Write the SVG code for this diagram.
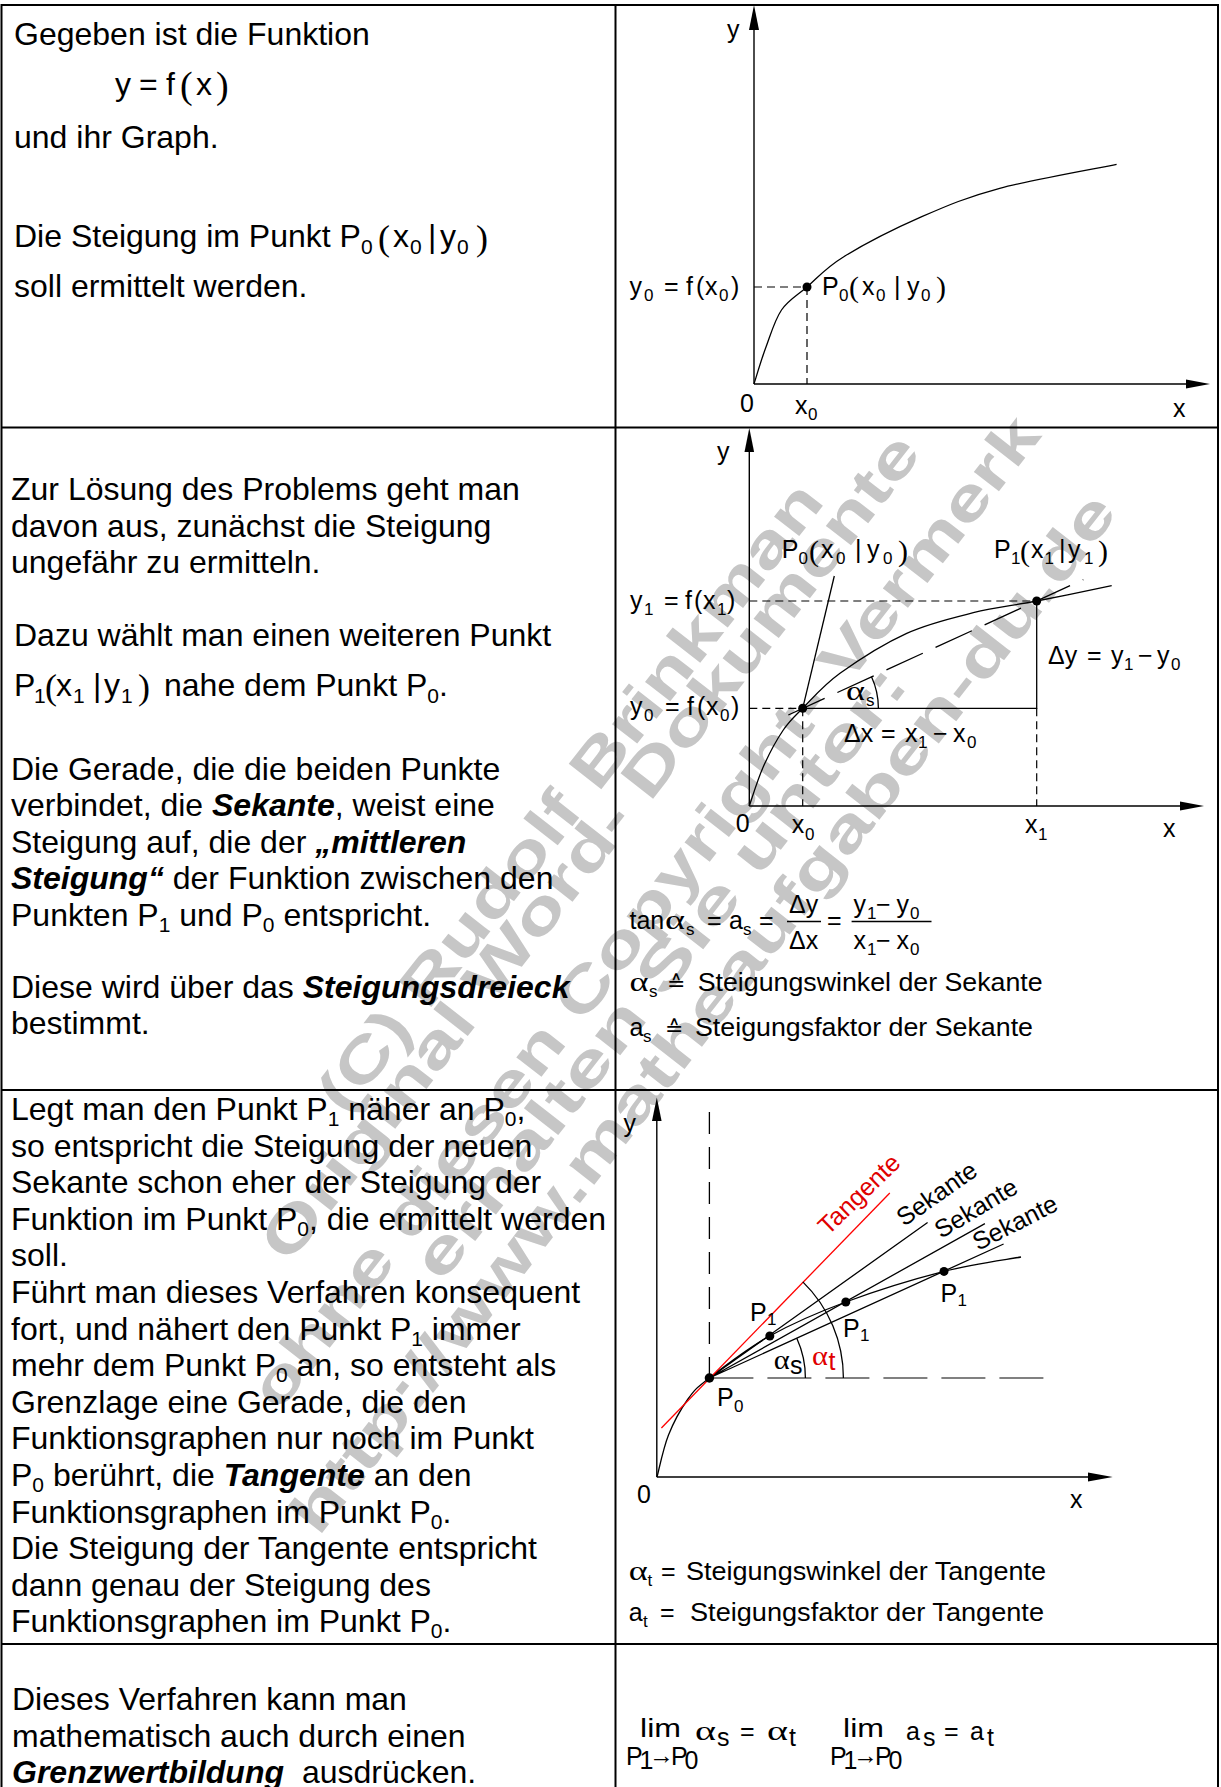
<svg xmlns="http://www.w3.org/2000/svg" width="1221" height="1787" viewBox="0 0 1221 1787">
<defs><style>
.tx{font-family:"Liberation Sans",Arial,"DejaVu Sans",sans-serif;font-size:32px;fill:#000}
.lb{font-family:"Liberation Sans",Arial,"DejaVu Sans",sans-serif;font-size:25px;fill:#000}
.sb{font-size:17px}
.sb2{font-size:21px}
.gr{font-family:"Liberation Serif","Times New Roman","DejaVu Serif",serif}
.al{font-family:"Liberation Serif","Times New Roman","DejaVu Serif",serif;font-size:27px;fill:#000}
.dv{font-family:"DejaVu Sans",sans-serif}
.bi{font-weight:bold;font-style:italic}
.grid{stroke:#000;stroke-width:2;fill:none}
.ax{stroke:#000;stroke-width:1.4;fill:none}
.cv{stroke:#000;stroke-width:1.3;fill:none}
.ds{stroke:#000;stroke-width:1.2;stroke-dasharray:8 5;fill:none}
.wm{font-family:"Liberation Sans",Arial,sans-serif;font-weight:bold;font-size:60px;fill:#c6c6c6}
.red{fill:#e00000}
</style></defs>
<rect x="0" y="0" width="1221" height="1787" fill="#fff"/>

<g id="watermark" text-anchor="middle">
<text class="wm" x="0" y="20" textLength="780" lengthAdjust="spacingAndGlyphs" transform="translate(570,797) rotate(-52)">(C) Rudolf Brinkman</text>
<text class="wm" x="0" y="20" textLength="1030" lengthAdjust="spacingAndGlyphs" transform="translate(590,847) rotate(-52)">Original Word- Dokumente</text>
<text class="wm" x="0" y="20" textLength="1240" lengthAdjust="spacingAndGlyphs" transform="translate(645,912) rotate(-52)">ohne diesen Copyright- Vermerk</text>
<text class="wm" x="0" y="20" textLength="760" lengthAdjust="spacingAndGlyphs" transform="translate(660,972) rotate(-52)">erhalten Sie unter:</text>
<text class="wm" x="0" y="20" textLength="1300" lengthAdjust="spacingAndGlyphs" transform="translate(703,1013) rotate(-52)">http://www.matheaufgaben-du.de</text>
</g>

<g id="table">
<path class="grid" d="M1.5,5H1219 M1.5,427.5H1219 M1.5,1090H1219 M1.5,1644H1219 M1.5,4V1787 M615.5,4V1787 M1218,4V1787"/>
</g>

<g id="row1-text">
<text class="tx" x="14" y="45">Gegeben ist die Funktion</text>
<text class="tx" y="95"><tspan x="115">y</tspan><tspan x="139">=</tspan><tspan x="166">f</tspan><tspan class="gr" x="180" y="98" font-size="38">(</tspan><tspan x="196" y="95">x</tspan><tspan class="gr" x="216" y="98" font-size="38">)</tspan></text>
<text class="tx" x="14" y="148">und ihr Graph.</text>
<text class="tx" y="247"><tspan x="14">Die Steigung im Punkt P</tspan><tspan class="sb2" x="361" y="254">0</tspan><tspan class="gr" x="378" y="250" font-size="36">(</tspan><tspan x="393" y="247">x</tspan><tspan class="sb2" x="410" y="254">0</tspan><tspan x="428" y="247">|</tspan><tspan x="440" y="247">y</tspan><tspan class="sb2" x="457" y="254">0</tspan><tspan class="gr" x="476" y="250" font-size="36">)</tspan></text>
<text class="tx" x="14" y="297">soll ermittelt werden.</text>
</g>

<g id="row1-diagram">
<line class="ax" x1="754" y1="384" x2="754" y2="28"/>
<polygon points="754,5 749,30 759,30"/>
<line class="ax" x1="754" y1="384" x2="1188" y2="384"/>
<polygon points="1210,384 1186,379.5 1186,388.5"/>
<path class="ds" d="M754,287H807 M807,287V384"/>
<path class="cv" d="M754,384 C756,377.8 761.4,359.3 766,347 C770.6,334.7 774.7,320 781.5,310 C788.3,300 796.6,295.9 807,287 C817.4,278.1 824.7,268.4 843.8,256.7 C862.9,245 895.8,228.1 921.8,216.7 C947.8,205.3 967.2,197 999.7,188.3 C1032.2,179.6 1097.1,168.3 1116.6,164.3"/>
<circle cx="807" cy="287" r="4.5"/>
<text class="lb" x="727" y="38">y</text>
<text class="lb" x="740" y="412">0</text>
<text class="lb" y="414"><tspan x="795">x</tspan><tspan class="sb" x="808" y="420">0</tspan></text>
<text class="lb" x="1173" y="417">x</text>
<text class="lb" y="295"><tspan x="629.5">y</tspan><tspan class="sb" x="644" y="301">0</tspan><tspan x="664" y="295">=</tspan><tspan x="686">f</tspan><tspan x="696">(</tspan><tspan x="705">x</tspan><tspan class="sb" x="719" y="301">0</tspan><tspan x="731" y="295">)</tspan></text>
<text class="lb" y="295"><tspan x="822">P</tspan><tspan class="sb" x="839" y="301">0</tspan><tspan class="gr" x="849" y="297" font-size="30">(</tspan><tspan x="862" y="295">x</tspan><tspan class="sb" x="876" y="301">0</tspan><tspan x="894" y="295">|</tspan><tspan x="907" y="295">y</tspan><tspan class="sb" x="921" y="301">0</tspan><tspan class="gr" x="936" y="297" font-size="30">)</tspan></text>
</g>

<g id="row2-text">
<text class="tx" x="11" y="500">Zur Lösung des Problems geht man</text>
<text class="tx" x="11" y="537">davon aus, zunächst die Steigung</text>
<text class="tx" x="11" y="573">ungefähr zu ermitteln.</text>
<text class="tx" x="14" y="646">Dazu wählt man einen weiteren Punkt</text>
<text class="tx" y="696"><tspan x="14">P</tspan><tspan class="sb2" x="34" y="703">1</tspan><tspan class="gr" x="45" y="699" font-size="36">(</tspan><tspan x="56" y="696">x</tspan><tspan class="sb2" x="73" y="703">1</tspan><tspan x="93" y="696">|</tspan><tspan x="104" y="696">y</tspan><tspan class="sb2" x="121" y="703">1</tspan><tspan class="gr" x="138" y="699" font-size="36">)</tspan><tspan x="164" y="696">nahe dem Punkt P</tspan><tspan class="sb2" y="703">0</tspan><tspan y="696">.</tspan></text>
<text class="tx" x="11" y="780">Die Gerade, die die beiden Punkte</text>
<text class="tx" x="11" y="816">verbindet, die <tspan class="bi">Sekante</tspan>, weist eine</text>
<text class="tx" x="11" y="853">Steigung auf, die der <tspan class="bi">„mittleren</tspan></text>
<text class="tx" x="11" y="889"><tspan class="bi">Steigung“</tspan> der Funktion zwischen den</text>
<text class="tx" x="11" y="926">Punkten P<tspan class="sb2" dy="6">1</tspan><tspan dy="-6"> und P</tspan><tspan class="sb2" dy="6">0</tspan><tspan dy="-6"> entspricht.</tspan></text>
<text class="tx" x="11" y="998">Diese wird über das <tspan class="bi">Steigungsdreieck</tspan></text>
<text class="tx" x="11" y="1034">bestimmt.</text>
</g>

<g id="row2-diagram">
<line class="ax" x1="749.3" y1="806" x2="749.3" y2="450"/>
<polygon points="749.3,428 744.5,452 754.1,452"/>
<line class="ax" x1="749.3" y1="806" x2="1182" y2="806"/>
<polygon points="1204,806 1180,801.5 1180,810.5"/>
<path class="ds" d="M749.3,601H1036.7 M749.3,708.3H802.7 M802.7,708.3V806 M1036.7,708.3V806"/>
<path class="cv" d="M802.7,708.3H1036.7V601"/>
<line class="cv" x1="802.7" y1="708.3" x2="834.3" y2="576"/>
<line class="cv" stroke-dasharray="40 14" x1="788.3" y1="715" x2="1083.3" y2="579.6"/>
<path class="cv" d="M749.3,806 C751.6,799.4 757.6,779.4 763.3,766.7 C769,754 776.7,739.7 783.3,730 C789.9,720.3 793.3,717.75 802.7,708.3 C812.2,698.9 822.7,685.8 840,673.3 C857.3,660.8 884.5,643.4 906.7,633.3 C928.9,623.2 951.6,618.1 973.3,612.7 C995,607.3 1013.6,605.5 1036.7,601 C1059.8,596.5 1099.2,588.3 1111.7,585.7"/>
<path class="cv" d="M878.4,708.3 A75.7,75.7 0 0 0 871.5,676.8"/>
<circle cx="802.7" cy="708.3" r="4.5"/>
<circle cx="1036.7" cy="601" r="4.5"/>
<text class="lb" x="717" y="460">y</text>
<text class="lb" y="558"><tspan x="781.7">P</tspan><tspan class="sb" x="798.5" y="564">0</tspan><tspan class="gr" x="809" y="561" font-size="30">(</tspan><tspan x="821" y="558">x</tspan><tspan class="sb" x="836" y="564">0</tspan><tspan x="855" y="558">|</tspan><tspan x="867" y="558">y</tspan><tspan class="sb" x="883" y="564">0</tspan><tspan class="gr" x="898" y="561" font-size="30">)</tspan></text>
<text class="lb" y="558"><tspan x="994">P</tspan><tspan class="sb" x="1011" y="564">1</tspan><tspan class="gr" x="1020" y="561" font-size="30">(</tspan><tspan x="1031" y="558">x</tspan><tspan class="sb" x="1044.5" y="564">1</tspan><tspan x="1059" y="558">|</tspan><tspan x="1068" y="558">y</tspan><tspan class="sb" x="1084" y="564">1</tspan><tspan class="gr" x="1098" y="561" font-size="30">)</tspan></text>
<text class="lb" y="609"><tspan x="630">y</tspan><tspan class="sb" x="644" y="615">1</tspan><tspan x="664" y="609">=</tspan><tspan x="685">f</tspan><tspan x="694">(</tspan><tspan x="703">x</tspan><tspan class="sb" x="717" y="615">1</tspan><tspan x="727" y="609">)</tspan></text>
<text class="lb" y="715"><tspan x="630">y</tspan><tspan class="sb" x="644" y="721">0</tspan><tspan x="665" y="715">=</tspan><tspan x="687">f</tspan><tspan x="697">(</tspan><tspan x="706">x</tspan><tspan class="sb" x="720" y="721">0</tspan><tspan x="731" y="715">)</tspan></text>
<text class="lb" y="742"><tspan x="844">Δx</tspan><tspan x="881">=</tspan><tspan x="905">x</tspan><tspan class="sb" x="918" y="748">1</tspan><tspan x="933" y="742">−</tspan><tspan x="953">x</tspan><tspan class="sb" x="967" y="748">0</tspan></text>
<text class="lb" y="664"><tspan x="1048">Δy</tspan><tspan x="1087">=</tspan><tspan x="1111">y</tspan><tspan class="sb" x="1124" y="670">1</tspan><tspan x="1138" y="664">−</tspan><tspan x="1157">y</tspan><tspan class="sb" x="1171" y="670">0</tspan></text>
<text class="al" x="846" y="700" textLength="19" lengthAdjust="spacingAndGlyphs">α</text>
<text class="lb sb" x="866" y="706">s</text>
<text class="lb" x="735.7" y="832">0</text>
<text class="lb" y="833"><tspan x="791.7">x</tspan><tspan class="sb" x="805" y="840">0</tspan></text>
<text class="lb" y="833"><tspan x="1025">x</tspan><tspan class="sb" x="1038" y="840">1</tspan></text>
<text class="lb" x="1163" y="837">x</text>
<text class="lb" x="629.5" y="929">tan</text>
<text class="al" x="665" y="929" textLength="20" lengthAdjust="spacingAndGlyphs">α</text>
<text class="lb" y="929"><tspan class="sb" x="686" y="935">s</tspan><tspan x="707" y="929">=</tspan><tspan x="729">a</tspan><tspan class="sb" x="743" y="935">s</tspan><tspan x="759" y="929">=</tspan><tspan x="827">=</tspan></text>
<text class="lb" x="789" y="913">Δy</text>
<line class="cv" x1="787" y1="921.5" x2="821" y2="921.5"/>
<text class="lb" x="789" y="949">Δx</text>
<text class="lb" y="913"><tspan x="853.6">y</tspan><tspan class="sb" x="867" y="919">1</tspan><tspan x="876" y="913">−</tspan><tspan x="896.4">y</tspan><tspan class="sb" x="910" y="919">0</tspan></text>
<line class="cv" x1="851.6" y1="921.5" x2="931.5" y2="921.5"/>
<text class="lb" y="949"><tspan x="853.6">x</tspan><tspan class="sb" x="867" y="955">1</tspan><tspan x="876" y="949">−</tspan><tspan x="896.4">x</tspan><tspan class="sb" x="910" y="955">0</tspan></text>
<text class="al" x="629.5" y="991" textLength="19" lengthAdjust="spacingAndGlyphs">α</text>
<text class="lb" y="991"><tspan class="sb" x="649" y="997">s</tspan><tspan class="dv" x="667" y="991" font-size="22">≙</tspan></text>
<text class="lb" x="697.7" y="991" font-size="26" textLength="345" lengthAdjust="spacingAndGlyphs">Steigungswinkel der Sekante</text>
<text class="lb" y="1036"><tspan x="629.5">a</tspan><tspan class="sb" x="643" y="1042">s</tspan><tspan class="dv" x="665" y="1036" font-size="22">≙</tspan></text>
<text class="lb" x="695" y="1036" font-size="26" textLength="338" lengthAdjust="spacingAndGlyphs">Steigungsfaktor der Sekante</text>
</g>

<g id="row3-text">
<text class="tx" x="11" y="1120">Legt man den Punkt P<tspan class="sb2" dy="6">1</tspan><tspan dy="-6"> näher an P</tspan><tspan class="sb2" dy="6">0</tspan><tspan dy="-6">,</tspan></text>
<text class="tx" x="11" y="1156.6">so entspricht die Steigung der neuen</text>
<text class="tx" x="11" y="1193.2">Sekante schon eher der Steigung der</text>
<text class="tx" x="11" y="1229.8">Funktion im Punkt P<tspan class="sb2" dy="6">0</tspan><tspan dy="-6">, die ermittelt werden</tspan></text>
<text class="tx" x="11" y="1266.4">soll.</text>
<text class="tx" x="11" y="1303">Führt man dieses Verfahren konsequent</text>
<text class="tx" x="11" y="1339.6">fort, und nähert den Punkt P<tspan class="sb2" dy="6">1</tspan><tspan dy="-6"> immer</tspan></text>
<text class="tx" x="11" y="1376.2">mehr dem Punkt P<tspan class="sb2" dy="6">0</tspan><tspan dy="-6"> an, so entsteht als</tspan></text>
<text class="tx" x="11" y="1412.8">Grenzlage eine Gerade, die den</text>
<text class="tx" x="11" y="1449.4">Funktionsgraphen nur noch im Punkt</text>
<text class="tx" x="11" y="1486">P<tspan class="sb2" dy="6">0</tspan><tspan dy="-6"> berührt, die </tspan><tspan class="bi">Tangente</tspan> an den</text>
<text class="tx" x="11" y="1522.6">Funktionsgraphen im Punkt P<tspan class="sb2" dy="6">0</tspan><tspan dy="-6">.</tspan></text>
<text class="tx" x="11" y="1559.2">Die Steigung der Tangente entspricht</text>
<text class="tx" x="11" y="1595.8">dann genau der Steigung des</text>
<text class="tx" x="11" y="1632.4">Funktionsgraphen im Punkt P<tspan class="sb2" dy="6">0</tspan><tspan dy="-6">.</tspan></text>
</g>

<g id="row3-diagram">
<line class="ax" x1="656.8" y1="1477" x2="656.8" y2="1120"/>
<polygon points="656.8,1097.5 652,1121 661.6,1121"/>
<line class="ax" x1="656.8" y1="1477" x2="1089" y2="1477"/>
<polygon points="1112.7,1477 1088,1472.5 1088,1481.5"/>
<line stroke="#000" stroke-width="1.3" stroke-dasharray="22 13" x1="709.4" y1="1112" x2="709.4" y2="1378"/>
<line stroke="#808080" stroke-width="2" stroke-dasharray="44 14" x1="709.4" y1="1378" x2="1050" y2="1378"/>
<path class="cv" d="M657,1477 C658.9,1470 663.3,1448 668.5,1435 C673.7,1422 681.2,1408.5 688,1399 C694.8,1389.5 695.8,1388.5 709.4,1378 C723,1367.5 747.1,1348.7 769.8,1336 C792.5,1323.3 816.8,1312.8 845.8,1302 C874.8,1291.2 914.8,1278.9 944,1271.4 C973.2,1263.9 1008.2,1259.4 1021,1257"/>
<path class="cv" d="M709.4,1378 L927.6,1222.5 M709.4,1378 L984.9,1223.6 M709.4,1378 L1003.6,1244"/>
<line stroke="#ff0000" stroke-width="1.3" x1="661.4" y1="1428" x2="889.8" y2="1193"/>
<path class="cv" d="M805.4,1378 A96,96 0 0 0 796.8,1338.3"/>
<path class="cv" d="M843.4,1378 A134,134 0 0 0 802.8,1281.9"/>
<circle cx="709.4" cy="1378" r="4.7"/>
<circle cx="769.8" cy="1336" r="4.5"/>
<circle cx="845.8" cy="1302" r="4.5"/>
<circle cx="944" cy="1271.4" r="4.5"/>
<text class="lb" font-size="19" transform="translate(904,1227) rotate(-35)">Sekante</text>
<text class="lb" font-size="19" transform="translate(941,1239) rotate(-31)">Sekante</text>
<text class="lb" font-size="19" transform="translate(978,1251) rotate(-27)">Sekante</text>
<text class="lb red" font-size="19" transform="translate(828,1236) rotate(-44)">Tangente</text>
<text class="lb" x="623.6" y="1132">y</text>
<text class="lb" x="637" y="1503">0</text>
<text class="lb" x="1070" y="1508">x</text>
<text class="lb" y="1321"><tspan x="750">P</tspan><tspan class="sb" x="767" y="1325">1</tspan></text>
<text class="lb" y="1337"><tspan x="843">P</tspan><tspan class="sb" x="860" y="1341">1</tspan></text>
<text class="lb" y="1302"><tspan x="940.5">P</tspan><tspan class="sb" x="957.5" y="1306">1</tspan></text>
<text class="lb" y="1406"><tspan x="717">P</tspan><tspan class="sb" x="734" y="1412">0</tspan></text>
<text class="al" x="773.7" y="1369" font-size="22" textLength="16" lengthAdjust="spacingAndGlyphs">α</text>
<text class="lb" x="790" y="1374" font-size="14">s</text>
<text class="al red" x="812" y="1365" font-size="22" textLength="16" lengthAdjust="spacingAndGlyphs">α</text>
<text class="lb red" x="828.5" y="1370" font-size="14">t</text>
<text class="al" x="628.7" y="1580" textLength="19" lengthAdjust="spacingAndGlyphs">α</text>
<text class="lb" y="1580"><tspan class="sb" x="647.5" y="1586">t</tspan><tspan x="661" y="1580">=</tspan></text>
<text class="lb" x="686" y="1580" font-size="26" textLength="360" lengthAdjust="spacingAndGlyphs">Steigungswinkel der Tangente</text>
<text class="lb" y="1621"><tspan x="628.7">a</tspan><tspan class="sb" x="643" y="1627">t</tspan><tspan x="660" y="1621">=</tspan></text>
<text class="lb" x="690" y="1621" font-size="26" textLength="354" lengthAdjust="spacingAndGlyphs">Steigungsfaktor der Tangente</text>
</g>

<g id="row4-text">
<text class="tx" x="12" y="1710">Dieses Verfahren kann man</text>
<text class="tx" x="12" y="1747">mathematisch auch durch einen</text>
<text class="tx" x="12" y="1783"><tspan class="bi">Grenzwertbildung</tspan><tspan dx="9"> ausdrücken.</tspan></text>
</g>

<g id="row4-formula">
<text class="lb" x="640" y="1737" font-size="29" textLength="41" lengthAdjust="spacingAndGlyphs">lim</text>
<text class="lb" x="626" y="1765" font-size="19">P</text>
<text class="lb" x="639.5" y="1769" font-size="13">1</text>
<text class="lb" x="649" y="1764" font-size="19">→</text>
<text class="lb" x="671" y="1765" font-size="19">P</text>
<text class="lb" x="684.5" y="1769" font-size="13">0</text>
<text class="al" x="695" y="1740" font-size="29" textLength="21" lengthAdjust="spacingAndGlyphs">α</text>
<text class="lb" x="717" y="1746" font-size="19">s</text>
<text class="lb" x="740" y="1740" font-size="29">=</text>
<text class="al" x="767" y="1740" font-size="29" textLength="21" lengthAdjust="spacingAndGlyphs">α</text>
<text class="lb" x="789" y="1746" font-size="19">t</text>
<text class="lb" x="843" y="1737" font-size="29" textLength="41" lengthAdjust="spacingAndGlyphs">lim</text>
<text class="lb" x="830" y="1765" font-size="19">P</text>
<text class="lb" x="843.5" y="1769" font-size="13">1</text>
<text class="lb" x="853" y="1764" font-size="19">→</text>
<text class="lb" x="875" y="1765" font-size="19">P</text>
<text class="lb" x="888.5" y="1769" font-size="13">0</text>
<text class="lb" x="906" y="1740" font-size="29">a</text>
<text class="lb" x="923" y="1746" font-size="19">s</text>
<text class="lb" x="944" y="1740" font-size="29">=</text>
<text class="lb" x="970" y="1740" font-size="29">a</text>
<text class="lb" x="987" y="1746" font-size="19">t</text>
</g>
</svg>
